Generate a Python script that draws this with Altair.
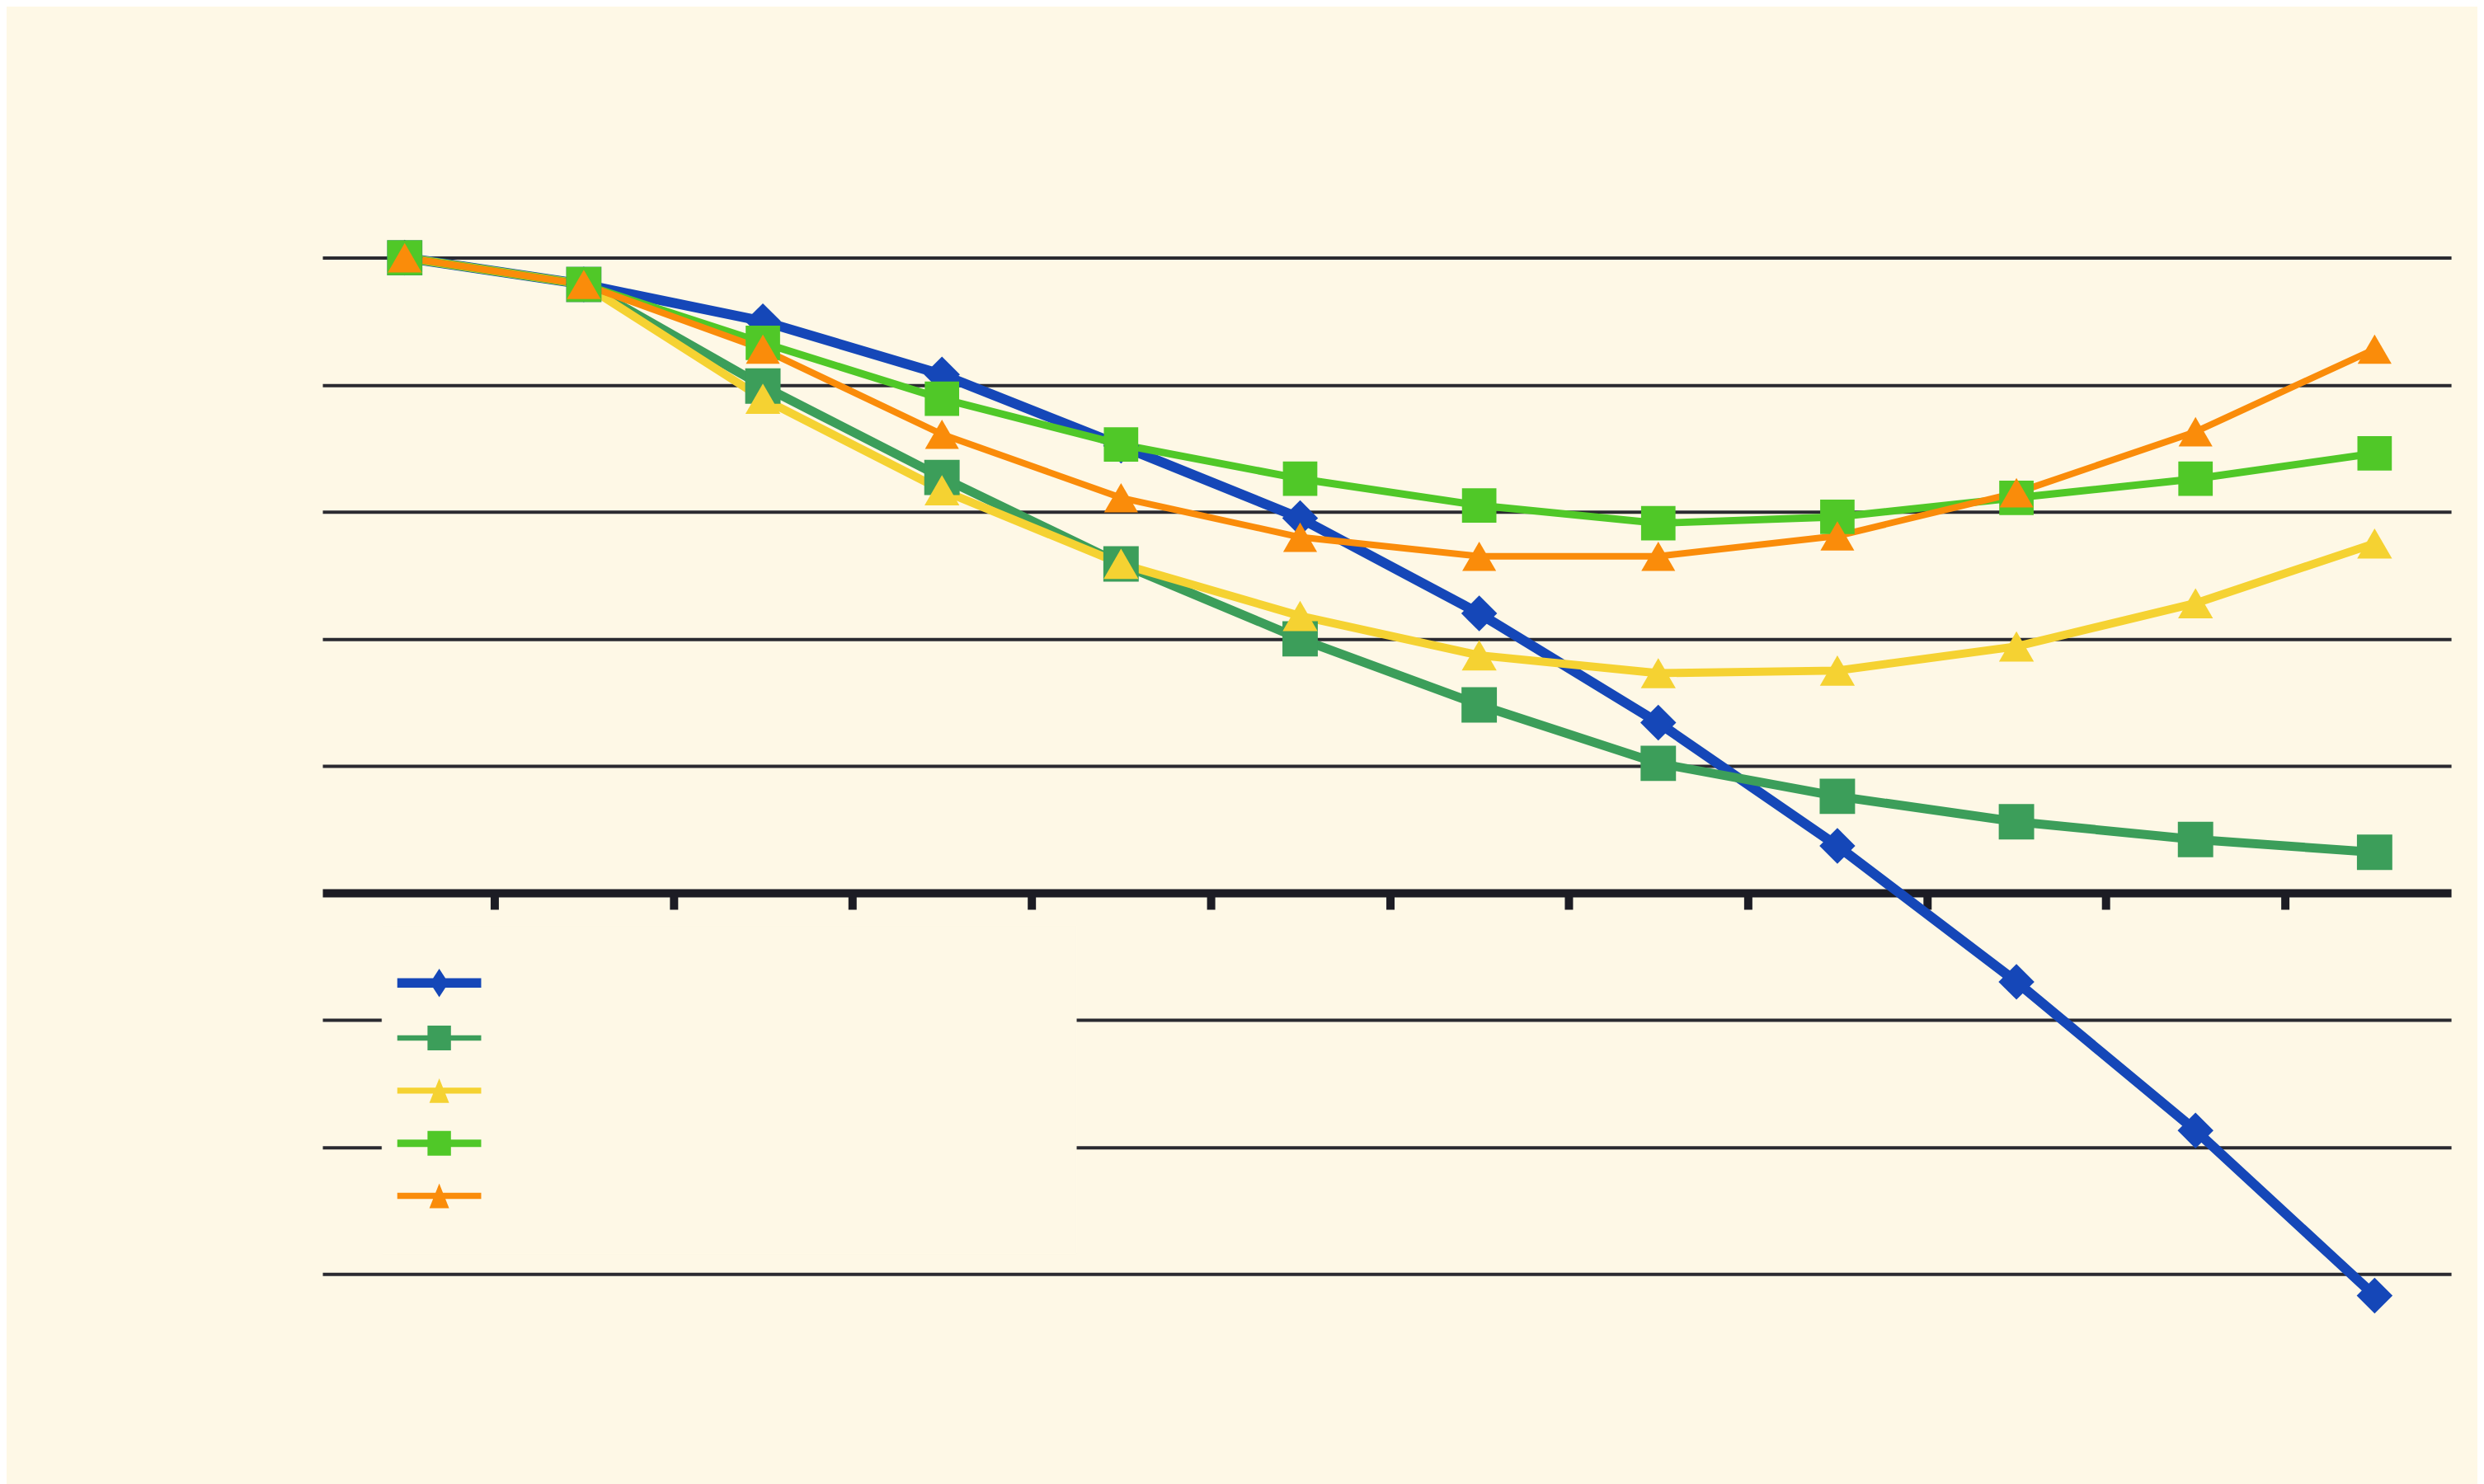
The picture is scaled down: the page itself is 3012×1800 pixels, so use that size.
import altair as alt
import pandas as pd

# ---- data ----
positions = list(range(1, 13))
series_names = ["Series 1", "Series 2", "Series 3", "Series 4", "Series 5"]
s1 = [5.00, 4.79, 4.50, 4.08, 3.52, 2.95, 2.20, 1.34, 0.37, -0.70, -1.87, -3.17]
s2 = [5.00, 4.79, 3.99, 3.27, 2.59, 2.00, 1.48, 1.02, 0.76, 0.56, 0.42, 0.32]
s3 = [5.00, 4.79, 3.89, 3.17, 2.59, 2.18, 1.87, 1.73, 1.75, 1.94, 2.28, 2.75]
s4 = [5.00, 4.79, 4.33, 3.89, 3.53, 3.26, 3.05, 2.91, 2.96, 3.11, 3.26, 3.46]
s5 = [5.00, 4.79, 4.28, 3.61, 3.11, 2.80, 2.65, 2.65, 2.81, 3.15, 3.63, 4.28]
y_grid = [-3, -2, -1, 1, 2, 3, 4, 5]
x_ticks = [1.5, 2.5, 3.5, 4.5, 5.5, 6.5, 7.5, 8.5, 9.5, 10.5, 11.5]

# ---- styles ----
colors = ["#1547B8", "#3C9E5A", "#F5D232", "#50C828", "#FA8C0A"]
shapes = ["diamond", "square", "triangle-up", "square", "triangle-up"]
widths = [12, 8, 9, 9, 9]
sizes = [1900, 1700, 2100, 1650, 2100]
BG = "#FEF8E6"

legend_paths = [
    "M-3.4,-0.38H3.4V0.38H-3.4Z M0,-1.15L0.75,0L0,1.15L-0.75,0Z",
    "M-3.4,-0.22H3.4V0.22H-3.4Z M-0.95,-1H0.95V1H-0.95Z",
    "M-3.4,-0.25H3.4V0.25H-3.4Z M0,-1L0.8,1H-0.8Z",
    "M-3.4,-0.3H3.4V0.3H-3.4Z M-0.95,-1H0.95V1H-0.95Z",
    "M-3.4,-0.25H3.4V0.25H-3.4Z M0,-1L0.8,1H-0.8Z",
]

rows = []
for name, vals in zip(series_names, [s1, s2, s3, s4, s5]):
    for p, v in zip(positions, vals):
        rows.append({"series": name, "pos": p, "value": v})
df = pd.DataFrame(rows)

x_enc = alt.X(
    "pos:Q",
    scale=alt.Scale(domain=[0.5406, 12.427], nice=False, zero=False),
    axis=alt.Axis(
        values=x_ticks, labels=False, title=None, grid=False,
        domainColor="#1c1c24", domainWidth=10, tickColor="#1c1c24",
        tickWidth=10, tickSize=20, offset=-463.5, domainCap="butt",
    ),
)
y_enc = alt.Y(
    "value:Q",
    scale=alt.Scale(domain=[-3, 5], nice=False, zero=False),
    axis=alt.Axis(
        values=y_grid, labels=False, ticks=False, domain=False, title=None,
        grid=True, gridColor="#2a2a30", gridWidth=4, gridOpacity=1,
    ),
)

def cscale():
    return alt.Scale(domain=series_names, range=colors)

lines = alt.Chart(df).mark_line(strokeJoin="round").encode(
    x=x_enc,
    y=y_enc,
    color=alt.Color("series:N", scale=cscale(), legend=None),
    strokeWidth=alt.StrokeWidth("series:N", scale=alt.Scale(domain=series_names, range=widths), legend=None),
    detail="series:N",
)

points = alt.Chart(df).mark_point(filled=True, opacity=1, strokeWidth=0).encode(
    x=alt.X("pos:Q"),
    y=alt.Y("value:Q"),
    color=alt.Color("series:N", scale=cscale(), legend=None),
    shape=alt.Shape("series:N", scale=alt.Scale(domain=series_names, range=shapes), legend=None),
    size=alt.Size("series:N", scale=alt.Scale(domain=series_names, range=sizes), legend=None),
)

leg = alt.Legend(
    orient="none", legendX=72, legendY=812, title=None,
    labelExpr="''", labelOffset=704, labelFontSize=10,
    symbolSize=900, symbolStrokeWidth=0, symbolOpacity=1, rowPadding=34,
    padding=55, fillColor=BG, strokeColor=BG, zindex=1,
)

legend_layer = alt.Chart(df).mark_point(filled=True, opacity=0, strokeWidth=0).encode(
    x=alt.X("pos:Q"),
    y=alt.Y("value:Q"),
    color=alt.Color("series:N", scale=cscale(), legend=leg),
    shape=alt.Shape("series:N", scale=alt.Scale(domain=series_names, range=legend_paths), legend=leg),
)

chart = alt.layer(lines, points, legend_layer).resolve_scale(
    color="independent", shape="independent"
).properties(
    width=2588,
    height=1236,
    background=BG,
    padding={"left": 384, "top": 303, "right": 32, "bottom": 253},
    autosize=alt.AutoSizeParams(type="none"),
).configure_view(stroke=None, fill=BG)

chart.save("out.html", embed_options={"renderer": "svg", "actions": False})
